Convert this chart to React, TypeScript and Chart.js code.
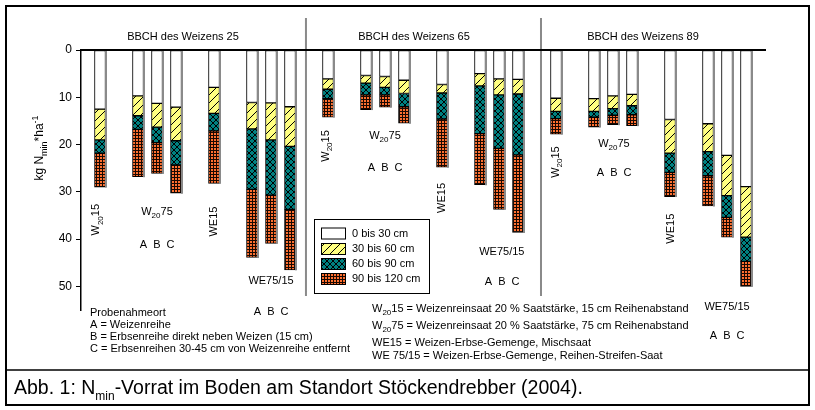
import React, { useEffect, useRef } from 'react';
import { Chart, registerables } from 'chart.js';

Chart.register(...registerables);

// x position (slot) of every bar: 3 growth stages, each W20 15, W20 75 A/B/C, WE15, WE75/15 A/B/C
const slots = [0, 2, 3, 4, 6, 8, 9, 10, 12, 14, 15, 16, 18, 20, 21, 22, 24, 26, 27, 28, 30, 32, 33, 34];
// kg Nmin/ha per soil layer
const layer0to30 = [12.5, 9.7, 11.3, 12.1, 7.9, 11.1, 11.2, 12.0, 6.1, 5.4, 5.6, 6.4, 7.3, 5.0, 6.1, 6.2, 10.2, 10.3, 9.7, 9.4, 14.7, 15.6, 22.3, 28.9];
const layer30to60 = [6.5, 4.2, 5.0, 7.1, 5.5, 5.6, 7.8, 8.4, 2.2, 1.6, 2.3, 2.8, 1.8, 2.6, 3.4, 3.1, 2.8, 2.7, 2.7, 2.4, 7.1, 5.9, 8.5, 10.7];
const layer60to90 = [2.8, 2.9, 3.3, 5.1, 3.7, 12.8, 11.7, 13.3, 2.0, 2.5, 1.6, 2.8, 5.5, 10.1, 11.3, 12.9, 1.5, 1.2, 1.4, 1.9, 4.1, 5.1, 4.6, 5.1];
const layer90to120 = [7.2, 10.0, 6.5, 6.0, 11.1, 14.4, 10.2, 12.8, 3.9, 3.1, 2.6, 3.5, 10.2, 10.8, 12.9, 16.4, 3.3, 2.1, 2.0, 2.3, 5.1, 6.4, 4.2, 5.3];
const layerLabels = ['0 bis 30 cm', '30 bis 60 cm', '60 bis 90 cm', '90 bis 120 cm'];
const yTicks = [0, 10, 20, 30, 40, 50];
const panelTitles = ['BBCH des Weizens 25', 'BBCH des Weizens 65', 'BBCH des Weizens 89'];

const FONT = "'Liberation Sans', Arial, sans-serif";

type Part = { t: string; s?: 'sub' | 'sup' };
const W2015: Part[] = [{ t: 'W' }, { t: '20', s: 'sub' }, { t: '15' }];
const W2075: Part[] = [{ t: 'W' }, { t: '20', s: 'sub' }, { t: '75' }];

// annotation placement (slot, value units)
const groupLabels = [
  { parts: W2015, slot: -0.2, val: 35.9, rot: true },
  { parts: W2075, slot: 3, val: 34.2, rot: false },
  { parts: [{ t: 'WE15' }], slot: 6, val: 36.3, rot: true },
  { parts: [{ t: 'WE75/15' }], slot: 9, val: 48.8, rot: false },
  { parts: W2015, slot: 11.9, val: 20.3, rot: true },
  { parts: W2075, slot: 15, val: 18.2, rot: false },
  { parts: [{ t: 'WE15' }], slot: 18, val: 31.3, rot: true },
  { parts: [{ t: 'WE75/15' }], slot: 21.15, val: 42.7, rot: false },
  { parts: W2015, slot: 24.0, val: 23.7, rot: true },
  { parts: W2075, slot: 27.05, val: 19.9, rot: false },
  { parts: [{ t: 'WE15' }], slot: 30.05, val: 37.8, rot: true },
  { parts: [{ t: 'WE75/15' }], slot: 33, val: 54.3, rot: false },
];
const abcLabels = [
  { slot: 3, val: 41.2 }, { slot: 9, val: 55.4 },
  { slot: 15, val: 24.9 }, { slot: 21.15, val: 49.0 },
  { slot: 27.05, val: 26.0 }, { slot: 33, val: 60.4 },
];
const panelSeparators = [10.84, 23.21];

const leftNotes = ['Probenahmeort', 'A = Weizenreihe', 'B = Erbsenreihe direkt neben Weizen (15 cm)', 'C = Erbsenreihen 30-45 cm von Weizenreihe entfernt'];
const rightNotes: Part[][] = [
  [{ t: 'W' }, { t: '20', s: 'sub' }, { t: '15 = Weizenreinsaat 20 % Saatstärke, 15 cm Reihenabstand' }],
  [{ t: 'W' }, { t: '20', s: 'sub' }, { t: '75 = Weizenreinsaat 20 % Saatstärke, 75 cm Reihenabstand' }],
  [{ t: 'WE15 = Weizen-Erbse-Gemenge, Mischsaat' }],
  [{ t: 'WE 75/15 = Weizen-Erbse-Gemenge, Reihen-Streifen-Saat' }],
];
const captionParts: Part[] = [{ t: 'Abb. 1: N' }, { t: 'min', s: 'sub' }, { t: '-Vorrat im Boden am Standort Stöckendrebber (2004).' }];
const yTitleParts: Part[] = [{ t: 'kg N' }, { t: 'min', s: 'sub' }, { t: '*ha' }, { t: '-1', s: 'sup' }];

function drawRich(ctx: CanvasRenderingContext2D, parts: Part[], x: number, y: number, size: number, align: 'left' | 'center' | 'right' = 'left', subScale = 0.75) {
  const small = Math.round(size * subScale);
  const widths = parts.map((p) => {
    ctx.font = `${p.s ? small : size}px ${FONT}`;
    return ctx.measureText(p.t).width;
  });
  const total = widths.reduce((a, b) => a + b, 0);
  let cx = align === 'center' ? x - total / 2 : align === 'right' ? x - total : x;
  ctx.textAlign = 'left';
  ctx.textBaseline = 'middle';
  parts.forEach((p, i) => {
    ctx.font = `${p.s ? small : size}px ${FONT}`;
    const dy = p.s === 'sub' ? size * 0.38 : p.s === 'sup' ? -size * 0.4 : 0;
    ctx.fillText(p.t, cx, y + dy);
    cx += widths[i];
  });
}

function makePattern(kind: string): CanvasPattern | string {
  const c = document.createElement('canvas');
  const g = c.getContext('2d')!;
  if (kind === 'yellow') {
    c.width = 8; c.height = 8;
    g.fillStyle = '#ffff80'; g.fillRect(0, 0, 8, 8);
    g.strokeStyle = '#000'; g.lineWidth = 1;
    g.beginPath();
    g.moveTo(0, 8); g.lineTo(8, 0);
    g.moveTo(-1, 1); g.lineTo(1, -1);
    g.moveTo(7, 9); g.lineTo(9, 7);
    g.stroke();
  } else if (kind === 'green') {
    c.width = 6; c.height = 6;
    g.fillStyle = '#008080'; g.fillRect(0, 0, 6, 6);
    g.strokeStyle = '#000'; g.lineWidth = 1;
    g.beginPath();
    g.moveTo(0, 0); g.lineTo(6, 6);
    g.moveTo(0, 6); g.lineTo(6, 0);
    g.stroke();
  } else if (kind === 'orange') {
    c.width = 3; c.height = 3;
    g.fillStyle = '#ff7030'; g.fillRect(0, 0, 3, 3);
    g.fillStyle = '#1a0800';
    g.fillRect(0, 0, 3, 1);
    g.fillRect(0, 0, 1, 3);
  } else {
    return '#ffffff';
  }
  return g.createPattern(c, 'repeat')!;
}

export default function App() {
  const ref = useRef<HTMLCanvasElement>(null);

  useEffect(() => {
    const canvas = ref.current!;
    const fills = [makePattern('white'), makePattern('yellow'), makePattern('green'), makePattern('orange')];
    const layers = [layer0to30, layer30to60, layer60to90, layer90to120];

    const decor = {
      id: 'decor',
      afterDatasetsDraw(chart: any) {
        const ctx: CanvasRenderingContext2D = chart.ctx;
        const ys = chart.scales.y;
        const top = ys.getPixelForValue(0);
        const meta = chart.getDatasetMeta(3);
        ctx.save();
        ctx.fillStyle = '#8a8a8a';
        meta.data.forEach((el: any) => {
          const p = el.getProps(['x', 'y', 'base', 'width'], true);
          const bottom = Math.max(p.y, p.base);
          ctx.fillRect(p.x + p.width / 2 - 0.5, top, 2, bottom - top + 0.5);
        });
        ctx.restore();
      },
      afterDraw(chart: any) {
        const ctx: CanvasRenderingContext2D = chart.ctx;
        const xs = chart.scales.x;
        const ys = chart.scales.y;
        const area = chart.chartArea;
        ctx.save();
        // outer frame
        ctx.strokeStyle = '#000';
        ctx.lineWidth = 2;
        ctx.strokeRect(6, 6, 803, 399);
        ctx.lineWidth = 1.5;
        ctx.beginPath();
        ctx.moveTo(6, 370); ctx.lineTo(809, 370);
        ctx.stroke();
        // panel separators
        ctx.fillStyle = '#8a8a8a';
        panelSeparators.forEach((s) => {
          const x = xs.getPixelForValue(s);
          ctx.fillRect(x - 1, 18, 2, 278);
        });
        // top line
        ctx.fillStyle = '#000';
        ctx.fillRect(area.left - 1, ys.getPixelForValue(0) - 1, area.right - area.left + 2, 2);
        // panel titles
        ctx.fillStyle = '#000';
        const titleX = [183, 414, 643];
        panelTitles.forEach((t, i) => drawRich(ctx, [{ t }], titleX[i], 37, 11, 'center'));
        // group labels
        groupLabels.forEach((g) => {
          const x = xs.getPixelForValue(g.slot);
          const y = ys.getPixelForValue(g.val);
          if (g.rot) {
            ctx.save();
            ctx.translate(x, y);
            ctx.rotate(-Math.PI / 2);
            drawRich(ctx, g.parts, 0, 0, 11, 'center');
            ctx.restore();
          } else {
            drawRich(ctx, g.parts, x, y, 11, 'center');
          }
        });
        abcLabels.forEach((a) => {
          const x = xs.getPixelForValue(a.slot);
          const y = ys.getPixelForValue(a.val);
          ['A', 'B', 'C'].forEach((l, i) => drawRich(ctx, [{ t: l }], x + (i - 1) * 13.5, y, 11, 'center'));
        });
        // y title
        ctx.save();
        ctx.translate(40, 148);
        ctx.rotate(-Math.PI / 2);
        drawRich(ctx, yTitleParts, 0, 0, 12, 'center');
        ctx.restore();
        // legend
        ctx.fillStyle = '#fff';
        ctx.fillRect(314, 219, 115, 74);
        ctx.strokeStyle = '#000';
        ctx.lineWidth = 1;
        ctx.strokeRect(314.5, 219.5, 115, 74);
        const rowY = [233.5, 249, 264, 279];
        layerLabels.forEach((lab, i) => {
          ctx.fillStyle = fills[i] as any;
          ctx.fillRect(321, rowY[i] - 6, 25, 12);
          ctx.strokeStyle = '#000';
          ctx.strokeRect(321.5, rowY[i] - 5.5, 24, 11);
          ctx.fillStyle = '#000';
          drawRich(ctx, [{ t: lab }], 352, rowY[i], 11, 'left');
        });
        // notes
        const leftY = [313, 325, 337, 349];
        leftNotes.forEach((t, i) => drawRich(ctx, [{ t }], 90, leftY[i], 11, 'left'));
        const rightY = [309, 326, 343, 356];
        rightNotes.forEach((p, i) => drawRich(ctx, p, 372, rightY[i], 11, 'left'));
        // caption
        drawRich(ctx, captionParts, 14, 389, 19.5, 'left', 0.62);
        ctx.restore();
      },
    };

    const chart = new Chart(canvas, {
      type: 'bar',
      data: {
        datasets: layers.map((arr, k) => ({
          label: layerLabels[k],
          data: slots.map((s, i) => ({ x: s, y: arr[i] })),
          backgroundColor: fills[k] as any,
          borderColor: '#000',
          borderWidth: 1,
          borderSkipped: false,
          barThickness: 11,
        })),
      },
      options: {
        responsive: false,
        animation: false,
        layout: { padding: { left: 0, top: 50, right: 50, bottom: 100 } },
        plugins: { legend: { display: false }, tooltip: { enabled: false } },
        scales: {
          x: { type: 'linear', min: -1, max: 35, stacked: true, display: false, offset: false },
          y: {
            type: 'linear',
            stacked: true,
            reverse: true,
            min: 0,
            max: 55,
            afterFit: (scale: any) => { scale.width = 81; },
            afterBuildTicks: (scale: any) => { scale.ticks = yTicks.map((v) => ({ value: v })); },
            ticks: { color: '#000', font: { family: FONT, size: 12 }, padding: 4 },
            grid: { drawOnChartArea: false, drawTicks: true, tickLength: 5, color: '#000', lineWidth: 1 },
            border: { display: true, color: '#000', width: 1.5 },
          },
        },
      },
      plugins: [decor],
    } as any);
    return () => chart.destroy();
  }, []);

  return (
    <div style={{ position: 'absolute', left: 0, top: 0, width: 815, height: 410, background: '#fff' }}>
      <canvas ref={ref} width={815} height={410} />
    </div>
  );
}
